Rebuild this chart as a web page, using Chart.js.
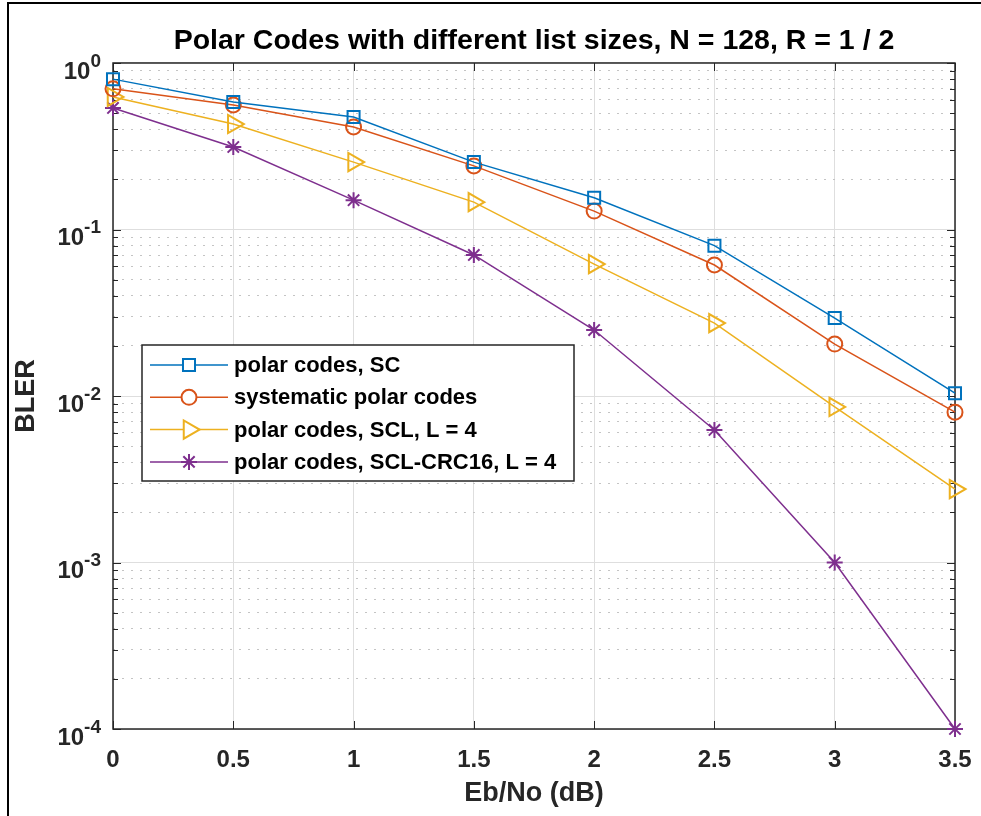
<!DOCTYPE html>
<html>
<head>
<meta charset="utf-8">
<script src="https://cdn.jsdelivr.net/npm/chart.js@4"></script>
<style>
  html, body { margin: 0; padding: 0; background: #fff; }
  #wrap { width: 981px; height: 816px; }
</style>
</head>
<body>
<div id="wrap"><canvas id="chart" width="981" height="816"></canvas></div>
<script>
// Eb/No (dB) points and BLER per decoder
const ebno = [0, 0.5, 1, 1.5, 2, 2.5, 3, 3.5];
const blerSC = [0.80, 0.583, 0.474, 0.254, 0.155, 0.080, 0.0294, 0.0104];
const blerSystematic = [0.70, 0.56, 0.413, 0.241, 0.129, 0.0612, 0.0205, 0.0080];
const blerSCL = [0.625, 0.43, 0.254, 0.146, 0.062, 0.0274, 0.0086, 0.00276];
const blerSCLCRC = [0.537, 0.313, 0.150, 0.0703, 0.0249, 0.00625, 0.0010, 0.0001];

const seriesLabels = [
    "polar codes, SC",
    "systematic polar codes",
    "polar codes, SCL, L = 4",
    "polar codes, SCL-CRC16, L = 4"
];

const xTicks = [0, 0.5, 1, 1.5, 2, 2.5, 3, 3.5];
const yDecades = [-4, -3, -2, -1, 0];

const FONT = "'Liberation Sans', Arial, Helvetica, sans-serif";
const AXIS_COLOR = "#262626";

// y ticks: every decade plus 2..9 multiples
const yTickValues = [];
yDecades.forEach(d => {
    yTickValues.push(Math.pow(10, d));
    if (d < 0) {
        for (let m = 2; m <= 9; m++) yTickValues.push(m * Math.pow(10, d));
    }
});

function isDecade(v) {
    const l = Math.log10(v);
    return Math.abs(l - Math.round(l)) < 1e-9;
}

function toPoints(values) {
    return values.map((v, i) => ({ x: ebno[i], y: v }));
}

Chart.defaults.font.family = FONT;

// white page + the figure window frame on the left and top
const pagePlugin = {
    id: "page",
    beforeDraw(chart) {
        const ctx = chart.ctx;
        ctx.save();
        ctx.fillStyle = "#fff";
        ctx.fillRect(0, 0, chart.width, chart.height);
        ctx.strokeStyle = "#000";
        ctx.lineWidth = 2;
        ctx.beginPath();
        ctx.moveTo(8, chart.height);
        ctx.lineTo(8, 3);
        ctx.lineTo(chart.width, 3);
        ctx.stroke();
        ctx.restore();
    }
};

// MATLAB style box, inward ticks and 10^n labels
const axesPlugin = {
    id: "matlabAxes",
    beforeDatasetsDraw(chart) {
        const { ctx, chartArea: a, scales: { x, y } } = chart;
        ctx.save();
        ctx.strokeStyle = AXIS_COLOR;
        ctx.lineWidth = 1;
        ctx.beginPath();
        xTicks.forEach(v => {
            const px = Math.round(x.getPixelForValue(v)) + 0.5;
            ctx.moveTo(px, a.bottom); ctx.lineTo(px, a.bottom - 8);
            ctx.moveTo(px, a.top); ctx.lineTo(px, a.top + 8);
        });
        yTickValues.forEach(v => {
            const py = Math.round(y.getPixelForValue(v)) + 0.5;
            const len = isDecade(v) ? 8 : 5;
            ctx.moveTo(a.left, py); ctx.lineTo(a.left + len, py);
            ctx.moveTo(a.right, py); ctx.lineTo(a.right - len, py);
        });
        ctx.stroke();
        ctx.lineWidth = 1.5;
        ctx.strokeRect(a.left, a.top, a.right - a.left, a.bottom - a.top);

        // y tick labels with superscript exponents
        ctx.fillStyle = AXIS_COLOR;
        ctx.textBaseline = "alphabetic";
        ctx.textAlign = "left";
        const rightEdge = 101;
        yDecades.forEach(d => {
            const py = y.getPixelForValue(Math.pow(10, d));
            const expText = String(d);
            ctx.font = "bold 19px " + FONT;
            const expW = ctx.measureText(expText).width;
            ctx.fillText(expText, rightEdge - expW, py + 3.5);
            ctx.font = "bold 24px " + FONT;
            const baseW = ctx.measureText("10").width;
            ctx.fillText("10", rightEdge - expW - baseW, py + 15.5);
        });
        ctx.restore();
    },
    afterDraw(chart) {
        // legend box inside the axes
        const ctx = chart.ctx;
        const box = { left: 142, top: 345, right: 574, bottom: 481 };
        const rowY = [365, 397.3, 429.6, 461.9];
        ctx.save();
        ctx.fillStyle = "#fff";
        ctx.fillRect(box.left, box.top, box.right - box.left, box.bottom - box.top);
        ctx.strokeStyle = AXIS_COLOR;
        ctx.lineWidth = 1.5;
        ctx.strokeRect(box.left, box.top, box.right - box.left, box.bottom - box.top);
        chart.data.datasets.forEach((ds, i) => {
            const yy = rowY[i];
            ctx.strokeStyle = ds.borderColor;
            ctx.lineWidth = ds.borderWidth;
            ctx.beginPath();
            ctx.moveTo(150, yy); ctx.lineTo(228, yy);
            ctx.stroke();
            ctx.fillStyle = "#fff";
            ctx.lineWidth = ds.pointBorderWidth;
            Chart.helpers.drawPoint(ctx, {
                pointStyle: ds.pointStyle,
                rotation: ds.pointRotation || 0,
                radius: ds.pointRadius,
                borderWidth: ds.pointBorderWidth
            }, 189, yy);
            ctx.fillStyle = "#000";
            ctx.font = "bold 22px " + FONT;
            ctx.textAlign = "left";
            ctx.textBaseline = "middle";
            ctx.fillText(ds.label, 234, yy + 1);
        });
        ctx.restore();
    }
};

function makeDataset(label, values, color, style, radius, rotation) {
    return {
        label: label,
        data: toPoints(values),
        borderColor: color,
        backgroundColor: "transparent",
        borderWidth: 1.5,
        pointStyle: style,
        pointRadius: radius,
        pointHoverRadius: radius,
        pointRotation: rotation || 0,
        pointBorderColor: color,
        pointBackgroundColor: "transparent",
        pointBorderWidth: 2,
        tension: 0,
        clip: false
    };
}

const ctx = document.getElementById("chart");

const graph = new Chart(ctx, {
    type: "line",
    data: {
        datasets: [
            makeDataset(seriesLabels[0], blerSC, "#0072BD", "rect", 8.5),
            makeDataset(seriesLabels[1], blerSystematic, "#D95319", "circle", 7.5),
            makeDataset(seriesLabels[2], blerSCL, "#EDB120", "triangle", 10.5, 90),
            makeDataset(seriesLabels[3], blerSCLCRC, "#7E2F8E", "star", 8)
        ]
    },
    options: {
        responsive: false,
        animation: false,
        events: [],
        layout: {
            padding: { left: 0, right: 26, top: 0, bottom: 0 }
        },
        scales: {
            x: {
                type: "linear",
                min: 0,
                max: 3.5,
                afterBuildTicks: scale => {
                    scale.ticks = xTicks.map(v => ({ value: v }));
                },
                afterFit: scale => {
                    scale.height = 87;
                    scale.paddingLeft = 0;
                    scale.paddingRight = 0;
                },
                grid: {
                    color: "#dedede",
                    lineWidth: 1,
                    drawTicks: false
                },
                border: { display: false },
                ticks: {
                    color: AXIS_COLOR,
                    padding: 17,
                    font: { size: 24, weight: "bold" },
                    maxRotation: 0,
                    callback: function(value) {
                        return String(value);
                    }
                },
                title: {
                    display: true,
                    text: "Eb/No (dB)",
                    color: AXIS_COLOR,
                    font: { size: 27, weight: "bold" },
                    padding: { top: 0, bottom: 5.8 }
                }
            },
            y: {
                type: "logarithmic",
                min: 1e-4,
                max: 1,
                afterBuildTicks: scale => {
                    scale.ticks = yTickValues.map(v => ({ value: v }));
                },
                afterFit: scale => {
                    scale.width = 113;
                    scale.paddingTop = 0;
                    scale.paddingBottom = 0;
                },
                grid: {
                    color: ctx => (ctx.tick && isDecade(ctx.tick.value)) ? "#dedede" : "#c4c4c4",
                    lineWidth: 1,
                    drawTicks: false
                },
                border: {
                    display: false,
                    dash: ctx => (ctx.tick && !isDecade(ctx.tick.value)) ? [2, 7] : []
                },
                ticks: {
                    display: false,
                    autoSkip: false
                },
                title: {
                    display: true,
                    text: "BLER",
                    color: AXIS_COLOR,
                    font: { size: 27, weight: "bold" },
                    padding: { top: 10.8, bottom: 0 }
                }
            }
        },
        plugins: {
            legend: { display: false },
            tooltip: { enabled: false },
            title: {
                display: true,
                fullSize: false,
                text: "Polar Codes with different list sizes, N = 128, R = 1 / 2",
                color: "#000",
                font: { size: 28.5, weight: "bold" },
                padding: { top: 23.9, bottom: 4.9 }
            }
        }
    },
    plugins: [pagePlugin, axesPlugin]
});
</script>
</body>
</html>
